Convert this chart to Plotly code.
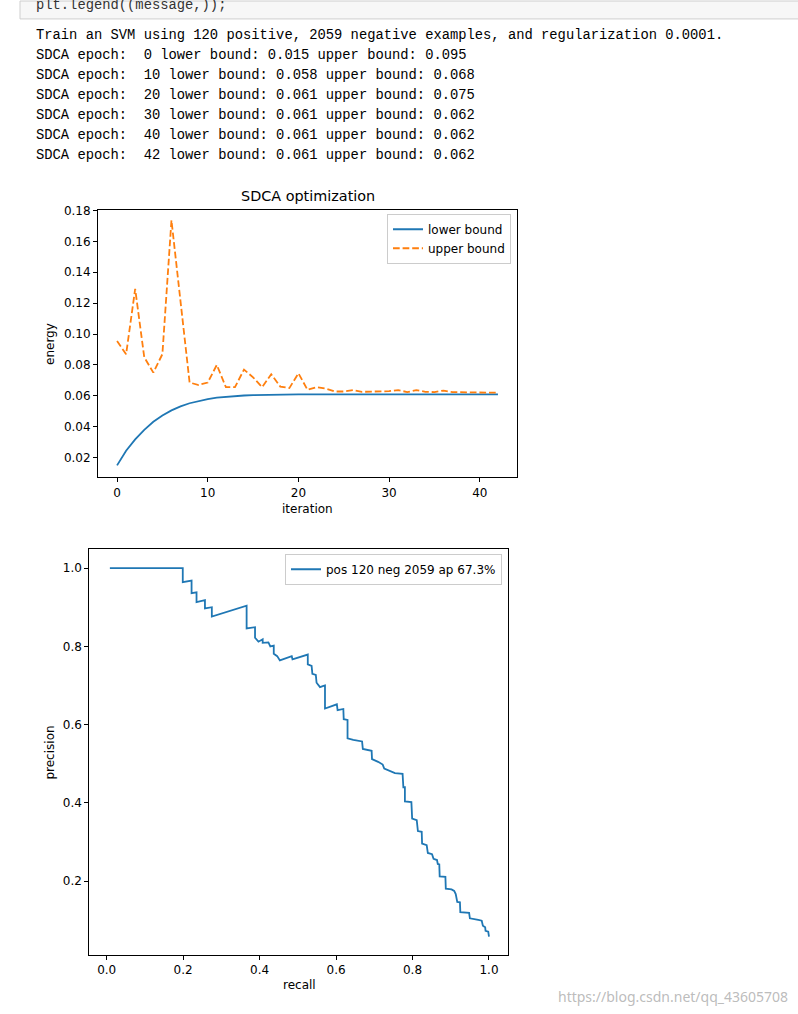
import plotly.graph_objects as go

W, H = 798, 1014

# ---------------- data ----------------
log_lines = [
    "Train an SVM using 120 positive, 2059 negative examples, and regularization 0.0001.",
    "SDCA epoch:  0 lower bound: 0.015 upper bound: 0.095",
    "SDCA epoch:  10 lower bound: 0.058 upper bound: 0.068",
    "SDCA epoch:  20 lower bound: 0.061 upper bound: 0.075",
    "SDCA epoch:  30 lower bound: 0.061 upper bound: 0.062",
    "SDCA epoch:  40 lower bound: 0.061 upper bound: 0.062",
    "SDCA epoch:  42 lower bound: 0.061 upper bound: 0.062",
]
code_line = "plt.legend((message,));"

iterations = list(range(43))
lower_bound = [0.015, 0.0245, 0.0318, 0.0380, 0.0432, 0.0473, 0.0506, 0.0532, 0.0552,
               0.0567, 0.0579, 0.0588, 0.0594, 0.0599, 0.0602, 0.0604, 0.0606, 0.0607,
               0.0608, 0.0609, 0.0610, 0.0610, 0.0610, 0.0610, 0.0610, 0.0610, 0.0610,
               0.0610, 0.0610, 0.0610, 0.0610, 0.0610, 0.0610, 0.0610, 0.0610, 0.0610,
               0.0610, 0.0610, 0.0610, 0.0610, 0.0610, 0.0610, 0.0610]
upper_bound = [0.0955, 0.0869, 0.1292, 0.085, 0.075, 0.087, 0.1736, 0.12, 0.0686, 0.067,
               0.0686, 0.080, 0.0656, 0.0656, 0.077, 0.072, 0.0656, 0.074, 0.066, 0.065,
               0.0746, 0.0639, 0.0656, 0.0647, 0.0628, 0.0628, 0.0637, 0.0626, 0.0626,
               0.0626, 0.063, 0.0637, 0.0624, 0.0637, 0.0626, 0.0624, 0.0634, 0.0624,
               0.0623, 0.0622, 0.062, 0.062, 0.062]

recall = [0.0083, 0.199, 0.199, 0.222, 0.222, 0.235, 0.235, 0.257, 0.257, 0.275, 0.275,
          0.366, 0.366, 0.366, 0.388, 0.388, 0.397, 0.408, 0.408, 0.423, 0.428, 0.437,
          0.437, 0.446, 0.453, 0.484, 0.486, 0.526, 0.526, 0.536, 0.538, 0.547, 0.549,
          0.558, 0.567, 0.571, 0.571, 0.602, 0.604, 0.619, 0.620, 0.630, 0.630, 0.645,
          0.668, 0.670, 0.693, 0.694, 0.710, 0.722, 0.726, 0.741, 0.754, 0.774, 0.776,
          0.780, 0.780, 0.797, 0.799, 0.811, 0.814, 0.824, 0.825, 0.837, 0.840, 0.851,
          0.855, 0.864, 0.866, 0.870, 0.871, 0.886, 0.887, 0.902, 0.909, 0.913, 0.917,
          0.924, 0.925, 0.948, 0.950, 0.972, 0.981, 0.984, 0.990, 0.991, 0.998, 1.000]
precision = [1.0, 1.0, 0.964, 0.968, 0.936, 0.938, 0.913, 0.918, 0.897, 0.900, 0.876,
             0.904, 0.853, 0.846, 0.849, 0.822, 0.812, 0.818, 0.809, 0.810, 0.800, 0.802,
             0.781, 0.775, 0.764, 0.775, 0.767, 0.779, 0.754, 0.750, 0.730, 0.727, 0.707,
             0.696, 0.699, 0.700, 0.641, 0.652, 0.637, 0.640, 0.614, 0.612, 0.565, 0.561,
             0.557, 0.538, 0.533, 0.512, 0.505, 0.498, 0.488, 0.482, 0.476, 0.474, 0.440,
             0.440, 0.404, 0.402, 0.360, 0.356, 0.328, 0.326, 0.296, 0.292, 0.272, 0.269,
             0.257, 0.254, 0.244, 0.243, 0.212, 0.211, 0.181, 0.179, 0.175, 0.167, 0.147,
             0.146, 0.121, 0.119, 0.105, 0.101, 0.099, 0.086, 0.082, 0.073, 0.071, 0.058]

pr_label = "pos 120 neg 2059 ap 67.3%"
watermark = "https://blog.csdn.net/qq_43605708"

# ---------------- helpers ----------------
def px(x):
    return x / W

def py(y):
    return 1 - y / H

BLUE = "#1f77b4"
ORANGE = "#ff7f0e"
MPL_FONT = "DejaVu Sans"

fig = go.Figure()

fig.add_trace(go.Scatter(x=iterations, y=lower_bound, mode="lines", name="lower bound",
                         line=dict(color=BLUE, width=1.8), xaxis="x", yaxis="y",
                         legend="legend"))
fig.add_trace(go.Scatter(x=iterations, y=upper_bound, mode="lines", name="upper bound",
                         line=dict(color=ORANGE, width=1.8, dash="6.7px,2.9px"),
                         xaxis="x", yaxis="y", legend="legend"))
fig.add_trace(go.Scatter(x=recall, y=precision, mode="lines", name=pr_label,
                         line=dict(color=BLUE, width=1.8), xaxis="x2", yaxis="y2",
                         legend="legend2"))

axis_common = dict(showgrid=False, zeroline=False, showline=True, mirror=True,
                   linecolor="black", linewidth=1, ticks="outside", ticklen=4,
                   tickcolor="black", tickwidth=1,
                   tickfont=dict(family=MPL_FONT, size=12, color="black"))

# chart 1 plot area: x 98..517, y 205..474
# chart 2 plot area: x 89.3..508.3, y 546..955
fig.update_layout(
    width=W, height=H, margin=dict(l=0, r=0, t=0, b=0),
    paper_bgcolor="white", plot_bgcolor="white",
    xaxis=dict(domain=[px(98), px(517)], range=[-2.1, 44.1], anchor="y",
               tickvals=[0, 10, 20, 30, 40], **axis_common),
    yaxis=dict(domain=[py(474), py(205)], range=[0.00734, 0.1804], anchor="x",
               tickvals=[0.02, 0.04, 0.06, 0.08, 0.10, 0.12, 0.14, 0.16, 0.18],
               tickformat=".2f", **axis_common),
    xaxis2=dict(domain=[px(89.3), px(508.3)], range=[-0.0455, 1.0505], anchor="y2",
                tickvals=[0.0, 0.2, 0.4, 0.6, 0.8, 1.0], tickformat=".1f", **axis_common),
    yaxis2=dict(domain=[py(954.5), py(546)], range=[0.0117, 1.0494], anchor="x2",
                tickvals=[0.2, 0.4, 0.6, 0.8, 1.0], tickformat=".1f", **axis_common),
    legend=dict(x=px(511), y=py(209), xanchor="right", yanchor="top",
                bgcolor="rgba(255,255,255,0.8)", bordercolor="#cccccc", borderwidth=1,
                font=dict(family=MPL_FONT, size=12, color="black"),
                tracegroupgap=0, itemwidth=30),
    legend2=dict(x=px(502), y=py(551), xanchor="right", yanchor="top",
                 bgcolor="rgba(255,255,255,0.8)", bordercolor="#cccccc", borderwidth=1,
                 font=dict(family=MPL_FONT, size=12, color="black"), itemwidth=30),
    showlegend=True,
)

# code cell box at top
fig.add_shape(type="rect", xref="paper", yref="paper",
              x0=px(20), x1=px(800), y0=py(13), y1=py(-5),
              fillcolor="#f7f7f7", line=dict(color="#cfcfcf", width=1), layer="below")

annotations = []
MONO = "Liberation Mono"
annotations.append(dict(text=code_line.replace(" ", "\u00a0"), x=px(34), y=py(-1),
                        xref="paper", yref="paper", xanchor="left", yanchor="middle",
                        showarrow=False, font=dict(family=MONO, size=13.8, color="#333333")))
for i, line in enumerate(log_lines):
    annotations.append(dict(text=line.replace(" ", "\u00a0"), x=px(34), y=py(30 + 20 * i),
                            xref="paper", yref="paper", xanchor="left", yanchor="middle",
                            showarrow=False,
                            font=dict(family=MONO, size=13.8, color="black")))

# chart titles and axis labels
annotations += [
    dict(text="SDCA optimization", x=px(307.5), y=py(191), xref="paper", yref="paper",
         xanchor="center", yanchor="middle", showarrow=False,
         font=dict(family=MPL_FONT, size=14.4, color="black")),
    dict(text="iteration", x=px(307.5), y=py(506), xref="paper", yref="paper",
         xanchor="center", yanchor="middle", showarrow=False,
         font=dict(family=MPL_FONT, size=12, color="black")),
    dict(text="energy", x=px(50), y=py(340), xref="paper", yref="paper",
         xanchor="center", yanchor="middle", showarrow=False, textangle=-90,
         font=dict(family=MPL_FONT, size=12, color="black")),
    dict(text="recall", x=px(299), y=py(985), xref="paper", yref="paper",
         xanchor="center", yanchor="middle", showarrow=False,
         font=dict(family=MPL_FONT, size=12, color="black")),
    dict(text="precision", x=px(50), y=py(751), xref="paper", yref="paper",
         xanchor="center", yanchor="middle", showarrow=False, textangle=-90,
         font=dict(family=MPL_FONT, size=12, color="black")),
    dict(text=watermark, x=px(790), y=py(996), xref="paper", yref="paper",
         xanchor="right", yanchor="middle", showarrow=False,
         font=dict(family="Noto Sans", size=14, color="rgba(180,180,180,0.9)")),
]
fig.update_layout(annotations=annotations)

fig.write_html("out.html", config={"displayModeBar": False},
               post_script="document.body.style.margin='0';")
